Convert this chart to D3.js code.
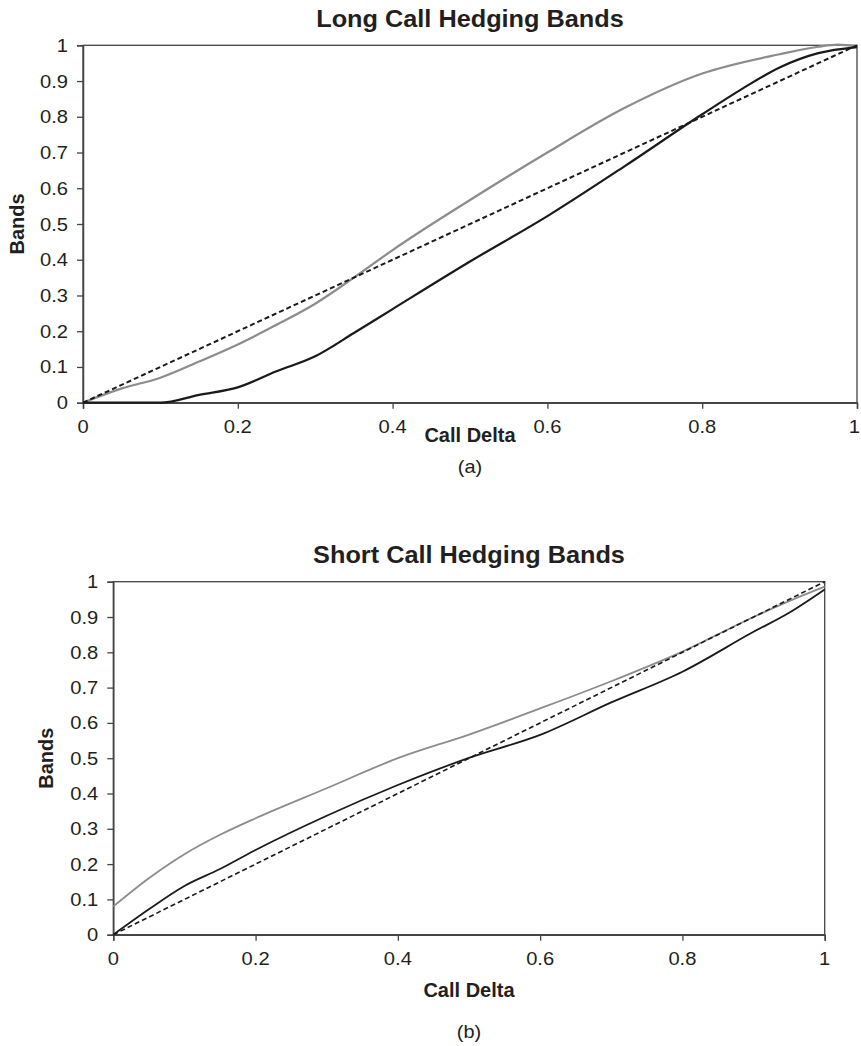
<!DOCTYPE html>
<html>
<head>
<meta charset="utf-8">
<script src="https://cdn.jsdelivr.net/npm/d3@7"></script>
<style>
  html, body { margin: 0; padding: 0; background: #fff; }
  svg { display: block; }
  text { font-family: "Liberation Sans", Arial, Helvetica, sans-serif; fill: #231f20; }
</style>
</head>
<body>
<svg id="chart" width="861" height="1046"></svg>
<script>
// ---------- Data ----------
const xTicks = [0, 0.2, 0.4, 0.6, 0.8, 1];
const yTicks = [0, 0.1, 0.2, 0.3, 0.4, 0.5, 0.6, 0.7, 0.8, 0.9, 1];
const tickLabels = ["0", "0.1", "0.2", "0.3", "0.4", "0.5", "0.6", "0.7", "0.8", "0.9", "1"];

// Panel (a): Long call
const longDelta = [0, 0.05, 0.1, 0.15, 0.2, 0.25, 0.3, 0.35, 0.4, 0.5, 0.6, 0.7, 0.8, 0.85, 0.9, 0.95, 1];
const longLower = [0, 0, 0, 0.022, 0.043, 0.088, 0.13, 0.195, 0.262, 0.395, 0.522, 0.662, 0.807, 0.876, 0.938, 0.978, 0.995];
const longUpperDelta = [0, 0.05, 0.1, 0.15, 0.2, 0.25, 0.3, 0.35, 0.4, 0.5, 0.6, 0.7, 0.8, 0.9, 0.95, 0.975, 1];
const longUpper = [0, 0.04, 0.07, 0.115, 0.163, 0.218, 0.277, 0.35, 0.427, 0.567, 0.70, 0.825, 0.921, 0.975, 0.996, 1.002, 0.997];

// Panel (b): Short call
const shortDelta = [0, 0.05, 0.1, 0.15, 0.2, 0.3, 0.4, 0.5, 0.6, 0.7, 0.8, 0.9, 0.95, 1];
const shortUpper = [0.08, 0.16, 0.228, 0.283, 0.33, 0.415, 0.5, 0.567, 0.641, 0.718, 0.802, 0.9, 0.945, 0.986];
const shortLower = [0, 0.072, 0.138, 0.186, 0.24, 0.337, 0.424, 0.501, 0.566, 0.658, 0.745, 0.858, 0.912, 0.978];

const diagonal = [0, 1];

// ---------- Drawing ----------
const svg = d3.select("#chart");
const W = 861;

function addText(g, txt, x, y, opts) {
  const sx = opts.sx || 1;
  const rot = opts.rotate || 0;
  return g.append("text")
    .attr("transform", `translate(${x},${y}) rotate(${rot}) scale(${sx},1)`)
    .attr("text-anchor", opts.anchor || "middle")
    .attr("font-size", opts.size)
    .attr("font-weight", opts.weight || "normal")
    .text(txt);
}

function panel(cfg) {
  const x = d3.scaleLinear().domain([0, 1]).range([cfg.left, cfg.right]);
  const y = d3.scaleLinear().domain([0, 1]).range([cfg.bottom, cfg.top]);
  const g = svg.append("g");

  // frame (top and right)
  g.append("rect")
    .attr("x", x(0)).attr("y", y(1))
    .attr("width", x(1) - x(0)).attr("height", y(0) - y(1))
    .attr("fill", "none").attr("stroke", "#444").attr("stroke-width", 1.3);

  // axes
  const xAxis = d3.axisBottom(x).tickValues(xTicks).tickSize(6);
  const yAxis = d3.axisLeft(y).tickValues(yTicks).tickSize(6);

  const gx = g.append("g").attr("transform", `translate(0,${y(0)})`).call(xAxis);
  const gy = g.append("g").attr("transform", `translate(${x(0)},0)`).call(yAxis);
  [gx, gy].forEach(a => {
    a.select(".domain").attr("stroke", "#444").attr("stroke-width", 1.5);
    a.selectAll(".tick line").attr("stroke", "#444").attr("stroke-width", 1.3);
    a.selectAll(".tick text").remove();
  });
  xTicks.forEach(v => {
    const t = addText(g, d3.format("~g")(v), x(v), y(0) + 30, { size: 18, sx: 1.12 });
    // keep the last label inside the page
    const half = t.node().getBBox().width * 1.12 / 2;
    if (x(v) + half > W - 1) {
      t.attr("transform", `translate(${W - 1 - half},${y(0) + 30}) scale(1.12,1)`);
    }
  });
  yTicks.forEach((v, i) => {
    addText(g, tickLabels[i], x(0) - 15, y(v) + 6.5, { size: 18, sx: 1.12, anchor: "end" });
  });

  // series
  const lineGen = d3.line().x(d => x(d[0])).y(d => y(d[1])).curve(d3.curveMonotoneX);
  const straight = d3.line().x(d => x(d[0])).y(d => y(d[1]));

  g.append("path")
    .datum(d3.zip(cfg.upperX, cfg.upper))
    .attr("d", lineGen).attr("fill", "none")
    .attr("stroke", "#8c8c8c").attr("stroke-width", cfg.lw);

  g.append("path")
    .datum(d3.zip(cfg.lowerX, cfg.lower))
    .attr("d", lineGen).attr("fill", "none")
    .attr("stroke", "#1a1a1a").attr("stroke-width", cfg.lw);

  g.append("path")
    .datum(d3.zip(diagonal, diagonal))
    .attr("d", straight).attr("fill", "none")
    .attr("stroke", "#1a1a1a").attr("stroke-width", cfg.lw * 0.9)
    .attr("stroke-dasharray", "5,3");

  // titles
  addText(g, cfg.title, (cfg.left + cfg.right) / 2, cfg.titleY, { size: 23, weight: "bold", sx: 1.1 });
  addText(g, "Call Delta", (cfg.left + cfg.right) / 2, cfg.xLabelY, { size: 20, weight: "bold" });
  addText(g, "Bands", cfg.yLabelX, (cfg.top + cfg.bottom) / 2, { size: 20, weight: "bold", rotate: -90 });
  addText(g, cfg.tag, (cfg.left + cfg.right) / 2, cfg.tagY, { size: 19, sx: 1.05 });
}

panel({
  left: 83, right: 857, top: 45.3, bottom: 402.7,
  title: "Long Call Hedging Bands", titleY: 27,
  xLabelY: 442, yLabelX: 24, tag: "(a)", tagY: 473,
  lowerX: longDelta, lower: longLower,
  upperX: longUpperDelta, upper: longUpper, lw: 2.2
});

panel({
  left: 113.3, right: 824.7, top: 581.7, bottom: 934.7,
  title: "Short Call Hedging Bands", titleY: 563,
  xLabelY: 997, yLabelX: 53, tag: "(b)", tagY: 1038,
  lowerX: shortDelta, lower: shortLower,
  upperX: shortDelta, upper: shortUpper, lw: 1.8
});
</script>
</body>
</html>
